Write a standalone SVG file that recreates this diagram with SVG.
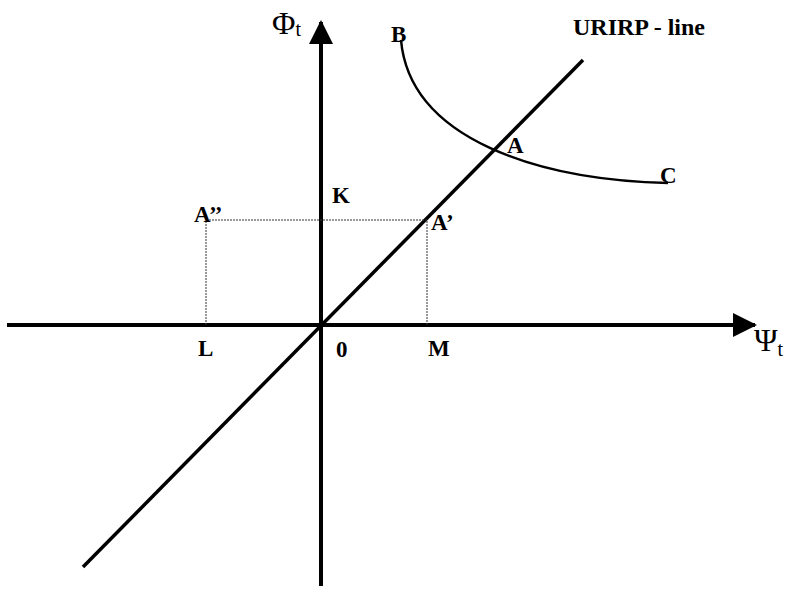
<svg xmlns="http://www.w3.org/2000/svg" width="790" height="596" viewBox="0 0 790 596">
<style>
.lbl{font-family:"Liberation Serif","Times New Roman",serif;font-weight:bold;font-size:23px;fill:#000}
.ax{stroke:#000;stroke-width:4;fill:none}
.thin{stroke:#333;stroke-width:1;stroke-dasharray:2 1;fill:none}
.sym{font-family:"Liberation Serif","Times New Roman",serif;font-size:32px;fill:#000}
.sub{font-size:20px}
</style>
<defs>
<marker id="ah" viewBox="0 0 24 24" refX="22" refY="12" markerWidth="24" markerHeight="24" markerUnits="userSpaceOnUse" orient="auto">
<path d="M0,0 L24,12 L0,24 Z" fill="#000"/>
</marker>
</defs>
<rect width="790" height="596" fill="#fff"/>
<g id="connectors">
<line class="ax" x1="321" y1="586" x2="321" y2="22" marker-end="url(#ah)"/>
<line class="ax" x1="7" y1="325" x2="755" y2="325" marker-end="url(#ah)"/>
<line x1="83" y1="567" x2="583" y2="60" stroke="#000" stroke-width="3.5"/>
<path d="M401 40 C410 140 540 180 668 183" stroke="#000" stroke-width="2.5" fill="none"/>
<polyline class="thin" points="206,325 206,220 427,220 427,325"/>
</g>
<g id="axis-phi"><text class="sym" x="272" y="34">Φ<tspan class="sub" dy="2">t</tspan></text></g>
<g id="axis-psi"><text class="sym" x="754" y="351" font-size="34">Ψ<tspan class="sub" dy="5">t</tspan></text></g>
<g id="B"><text class="lbl" x="391" y="42">B</text></g>
<g id="urirp"><text class="lbl" x="573" y="35" style="font-size:24px">URIRP - line</text></g>
<g id="A"><text class="lbl" x="507" y="153">A</text></g>
<g id="C"><text class="lbl" x="660" y="183">C</text></g>
<g id="K"><text class="lbl" x="332" y="203">K</text></g>
<g id="A2"><text class="lbl" x="194" y="222">A’’</text></g>
<g id="A1"><text class="lbl" x="431" y="230">A’</text></g>
<g id="L"><text class="lbl" x="198" y="356">L</text></g>
<g id="O"><text class="lbl" x="336" y="357">0</text></g>
<g id="M"><text class="lbl" x="428" y="356">M</text></g>
</svg>
